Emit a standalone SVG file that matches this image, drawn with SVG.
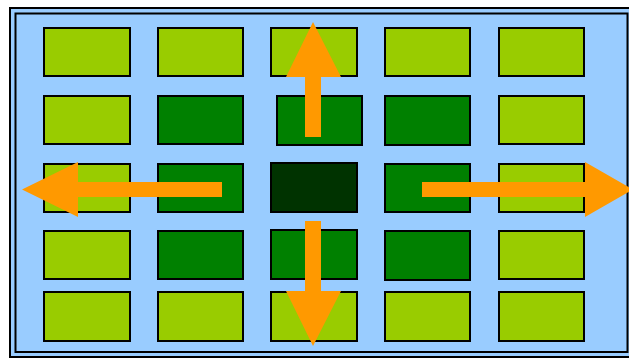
<svg xmlns="http://www.w3.org/2000/svg" width="629" height="358" viewBox="0 0 629 358">
<style>
.frame{fill:#99CCFF;stroke:#000;stroke-width:2}
.lg{fill:#99CC00;stroke:#000;stroke-width:2}
.g{fill:#008000;stroke:#000;stroke-width:2}
.dk{fill:#003300;stroke:#000;stroke-width:2}
.arr{fill:#FF9900;stroke:none}
</style>
<rect width="629" height="358" fill="#fff"/>
<g id="frame">
<rect class="frame" x="10" y="8" width="640" height="349"/>
<rect class="frame" x="15.5" y="13.5" width="612" height="338.5"/>
</g>
<g id="r1">
<rect id="n11" class="lg" x="44" y="28" width="86" height="48"/>
<rect id="n12" class="lg" x="158" y="28" width="85" height="48"/>
<rect id="n13" class="lg" x="271" y="28" width="86" height="48"/>
<rect id="n14" class="lg" x="385" y="28" width="85" height="48"/>
<rect id="n15" class="lg" x="499" y="28" width="85" height="48"/>
</g>
<g id="r2">
<rect id="n21" class="lg" x="44" y="96" width="86" height="48"/>
<rect id="n22" class="g" x="158" y="96" width="85" height="48"/>
<rect id="n23" class="g" x="277" y="96" width="85" height="49"/>
<rect id="n24" class="g" x="385" y="96" width="85" height="49"/>
<rect id="n25" class="lg" x="499" y="96" width="85" height="48"/>
</g>
<g id="r3">
<rect id="n31" class="lg" x="44" y="164" width="86" height="48"/>
<rect id="n32" class="g" x="158" y="164" width="85" height="48"/>
<rect id="n33" class="dk" x="271" y="163" width="86" height="49"/>
<rect id="n34" class="g" x="385" y="164" width="85" height="48"/>
<rect id="n35" class="lg" x="499" y="164" width="85" height="48"/>
</g>
<g id="r4">
<rect id="n41" class="lg" x="44" y="231" width="86" height="48"/>
<rect id="n42" class="g" x="158" y="231" width="85" height="48"/>
<rect id="n43" class="g" x="271" y="230" width="86" height="49"/>
<rect id="n44" class="g" x="385" y="231" width="85" height="49"/>
<rect id="n45" class="lg" x="499" y="231" width="85" height="48"/>
</g>
<g id="r5">
<rect id="n51" class="lg" x="44" y="292" width="86" height="49"/>
<rect id="n52" class="lg" x="158" y="292" width="85" height="49"/>
<rect id="n53" class="lg" x="271" y="292" width="86" height="49"/>
<rect id="n54" class="lg" x="385" y="292" width="85" height="49"/>
<rect id="n55" class="lg" x="499" y="292" width="85" height="49"/>
</g>
<g id="arrows">
<polygon class="arr" points="305,137 321,137 321,77 341,77 313,22 286,77 305,77"/>
<polygon class="arr" points="222,182 222,197 78,197 78,217 22,189.5 78,162 78,182"/>
<polygon class="arr" points="422,182 422,197 585,197 585,217 633,189.5 585,162 585,182"/>
<polygon class="arr" points="305,221 321,221 321,291 341,291 313,346 286,291 305,291"/>
</g>
</svg>
